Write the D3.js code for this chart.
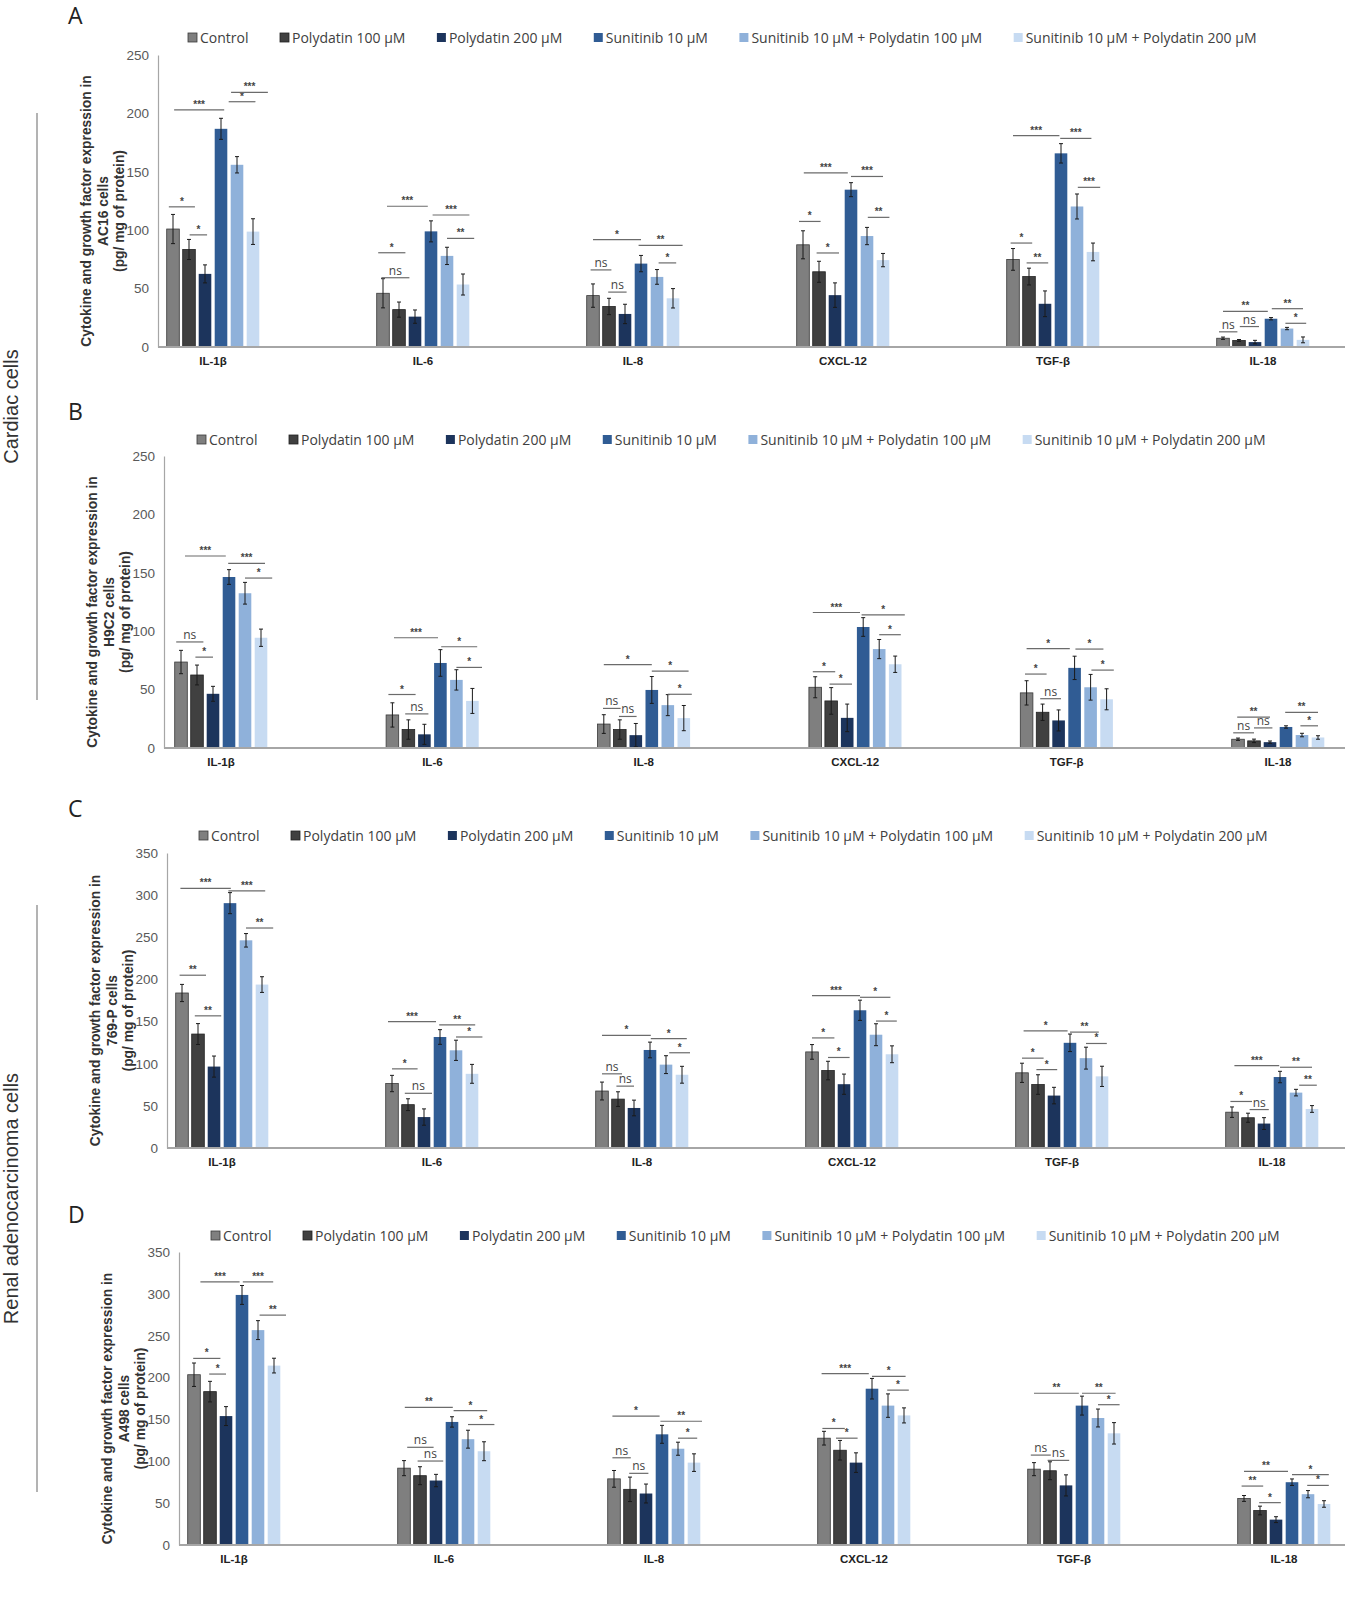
<!DOCTYPE html>
<html><head><meta charset="utf-8">
<script src="https://cdn.jsdelivr.net/npm/d3@7"></script>
<style>body{margin:0;background:#fff}</style>
</head><body>
<svg id="chart" width="1369" height="1606"></svg>
<script>
// ---------------- DATA ----------------
const categories = ["IL-1β","IL-6","IL-8","CXCL-12","TGF-β","IL-18"];
const seriesNames = ["Control","Polydatin 100 µM","Polydatin 200 µM","Sunitinib 10 µM","Sunitinib 10 µM + Polydatin 100 µM","Sunitinib 10 µM + Polydatin 200 µM"];
const seriesColors = ["#7f7f7f","#404040","#1c345c","#305c94","#8fb1da","#c7dbf2"];
const seriesStroke = ["#3a3a3a","#222222","#1c345c","#305c94","#8fb1da","#c7dbf2"];
const ticksCardiac = [0,50,100,150,200,250];
const ticksRenal = [0,50,100,150,200,250,300,350];
const cellLines = ["AC16","H9C2","769-P","A498"];

// rows = categories, columns = series
const valuesA = [[101,83.5,62.6,186.8,156,98.8],[46,32,26,99,78,53.5],[44,34.7,28.3,71.4,60,41.7],[87.5,64.4,44.4,134.7,95,74.4],[75,60.3,37,165.8,120.3,81.4],[7.5,5.6,4.2,24.2,15.8,6.1]];
const errorsA = [[12.5,8.6,7.7,9,7,11],[12.5,6.5,5.7,9,7.4,9],[10,7,8.3,7,6.3,8.3],[12,9,10.5,6,7.4,5.7],[9.3,7.2,11,8.3,10.7,7.6],[1,0.8,1.5,1,1,2.5]];
const valuesB = [[73.6,62.5,46.4,146.4,132.5,94.4],[28.3,15.8,11.7,72.8,58.3,40.3],[20.5,15.8,11,49.7,36.7,25.6],[52,40.3,25.8,103.6,84.7,71.7],[47.2,30.6,23.6,68.6,52,41.7],[7.5,6.1,5,18,11.1,9]];
const errorsB = [[10,8.5,6.4,6.3,9.3,7.4],[10.4,8.3,8.6,11.4,8.7,10.7],[8,8.3,10,11.5,9,10.8],[9,11.4,11.8,8,8.2,7],[10.4,7,9,10,11,9],[1,1.5,1,1,1.5,1.5]];
const valuesC = [[183.9,135.2,96.6,290.5,246.4,193.9],[76.5,51.4,36.7,131.7,115.9,88],[67.6,58,47.5,116.3,98.9,86.9],[114,91.9,75.7,163.4,134.4,111.2],[89.2,75.3,62.2,124.8,106.6,85],[42.5,35.9,29,84.2,65.7,46.3]];
const errorsC = [[10.2,12.4,12.5,12.5,8,9.3],[9.7,7,9.7,8.7,12,11.2],[10.6,8.7,9.3,9.3,10.6,10],[8.7,11,12,12,13,10],[11.4,11.6,9.8,10.4,13,12],[6.2,5.4,7,6.8,3.9,4]];
const valuesD = [[203.4,183.2,154,298.7,256.7,214.3],[91.8,82.8,77,147,126.4,112],[79,66.5,61.5,132.2,115,98.4],[127.6,113.2,98.4,186.7,166.5,154.8],[90.6,88.7,71.2,166.5,151.7,133.4],[55.6,41.2,30.3,75,60.7,49]];
const errorsD = [[14,12.3,11.3,11.3,11.3,8.8],[9,10.7,7.4,6.2,10.7,11.3],[10,14.6,11.3,10.7,7.8,10.5],[8.2,11.7,11.7,12.3,14,9],[7.8,10.7,12.6,11.3,10.7,12.8],[3.5,5.2,3.5,3.9,4.3,3.9]];

// significance brackets: [category, from series index, to series index, value, label]
const sigA = [[0,-0.26,1.37,120,"*"],[0,1.04,2.13,96,"*"],[0,0.07,3.2,203,"***"],[0,3.48,5.15,210,"*"],[0,3.63,5.93,218,"***"],
[1,-0.3,1.4,80.7,"*"],[1,-0.1,1.65,59.3,"ns"],[1,0.25,2.8,120.5,"***"],[1,3.1,5.4,113,"***"],[1,4.0,5.7,93,"**"],
[2,0,3,92,"*"],[2,-0.15,1.15,66,"ns"],[2,0.95,2.1,47,"ns"],[2,2.85,5.6,87,"**"],[2,4.1,5.2,72,"*"],
[3,-0.25,1.1,107.5,"*"],[3,0.85,2.25,80.5,"*"],[3,0.05,2.8,149,"***"],[3,3.0,5.0,146,"***"],[3,4.05,5.4,111,"**"],
[4,-0.15,1.2,89,"*"],[4,0.85,2.2,72,"**"],[4,0,2.9,181,"***"],[4,2.95,4.9,178.6,"***"],[4,4.05,5.45,136.7,"***"],
[5,-0.25,0.9,13,"ns"],[5,1.05,2.25,17.5,"ns"],[5,0,2.8,30.5,"**"],[5,3.05,5.0,32.8,"**"],[5,3.9,5.2,20.3,"*"]];
const sigB = [[0,-0.3,1.4,90.8,"ns"],[0,0.9,2.0,77.8,"*"],[0,0.25,2.8,164.4,"***"],[0,2.95,5.25,158,"***"],[0,4.0,5.7,145.5,"*"],
[1,-0.25,1.45,45.8,"*"],[1,0.8,2.25,29.2,"ns"],[1,0.1,2.85,94.4,"***"],[1,3.05,5.3,86.7,"*"],[1,4.0,5.6,69,"*"],
[2,-0.05,1.05,33.9,"ns"],[2,0.95,2.05,27,"ns"],[2,0,3,71.4,"*"],[2,3.0,5.3,65.8,"*"],[2,4.0,5.5,46,"*"],
[3,-0.15,1.25,65.3,"*"],[3,0.9,2.3,54.7,"*"],[3,-0.15,2.8,116,"***"],[3,2.9,5.6,114,"*"],[3,4.0,5.35,97,"*"],
[4,-0.1,1.25,63.3,"*"],[4,0.85,2.15,42.2,"ns"],[4,0,2.7,85,"*"],[4,3.05,4.8,84.7,"*"],[4,4.05,5.45,66.7,"*"],
[5,-0.3,1.0,13,"ns"],[5,1.0,2.15,17.2,"ns"],[5,-0.05,2.0,26.4,"**"],[5,2.95,5.0,30.5,"**"],[5,3.9,5.0,19,"*"]];
const sigC = [[0,-0.15,1.5,205,"**"],[0,0.8,2.45,156.8,"**"],[0,-0.1,3.05,308,"***"],[0,2.9,5.2,305,"***"],[0,4.0,5.7,261,"**"],
[1,0,1.6,93.9,"*"],[1,0.8,2.5,64.9,"ns"],[1,-0.25,2.75,149.9,"***"],[1,2.95,5.2,146,"**"],[1,4.0,5.65,131.7,"*"],
[2,0,1.25,88,"ns"],[2,0.9,2.0,73.4,"ns"],[2,0,3.05,133.6,"*"],[2,3.05,5.3,129.8,"*"],[2,4.2,5.5,113,"*"],
[3,0,1.4,130.6,"*"],[3,1.0,2.35,107.4,"*"],[3,0,3.0,180.8,"***"],[3,3.0,4.9,178.8,"*"],[3,4.0,5.3,150.6,"*"],
[4,0,1.35,106.6,"*"],[4,0.9,2.2,93,"*"],[4,0.1,2.85,139,"*"],[4,3.0,4.8,137.5,"**"],[4,4.0,5.3,124,"*"],
[5,-0.1,1.25,55.2,"*"],[5,1.1,2.3,45.6,"ns"],[5,0.15,2.95,97.7,"***"],[5,3.0,5.0,95.8,"**"],[5,4.2,5.3,74.5,"**"]];
const sigD = [[0,-0.05,1.65,222.9,"*"],[0,0.95,2.0,204.2,"*"],[0,0.4,2.85,314.3,"***"],[0,3.05,4.95,314.3,"***"],[0,4.1,5.75,274.6,"**"],
[1,0.2,1.85,116.7,"ns"],[1,0.85,2.45,100.3,"ns"],[1,0.05,3.05,164.5,"**"],[1,3.1,5.2,160.6,"*"],[1,4.0,5.65,143.9,"*"],
[2,-0.1,1.05,104.2,"ns"],[2,0.95,2.15,85.6,"ns"],[2,-0.1,2.85,154,"*"],[2,2.9,5.5,147.8,"**"],[2,4.0,5.2,127.6,"*"],
[3,-0.1,1.3,139.2,"*"],[3,0.75,2.1,127.6,"*"],[3,-0.15,2.8,204.6,"***"],[3,3.0,5.1,201.5,"*"],[3,3.95,5.3,185,"*"],
[4,-0.2,1.05,107.4,"ns"],[4,0.85,2.2,101.1,"ns"],[4,0,2.8,181.3,"**"],[4,3.0,5.1,181.3,"**"],[4,4.0,5.35,167.6,"*"],
[5,-0.15,1.2,70.4,"**"],[5,0.95,2.3,50.6,"*"],[5,0,2.75,87.9,"**"],[5,3.0,5.3,84,"*"],[5,3.95,5.3,71.2,"*"]];

// ---------------- LAYOUT ----------------
const panels = [
  {letter:"A", cell:cellLines[0], values:valuesA, errors:errorsA, sig:sigA, ticks:ticksCardiac, top:55, bottom:347, axisX:158, c0:213, step:210, legendY:38, legendX:188, letterY:24},
  {letter:"B", cell:cellLines[1], values:valuesB, errors:errorsB, sig:sigB, ticks:ticksCardiac, top:456, bottom:748, axisX:164, c0:221, step:211.4, legendY:440, legendX:197, letterY:420},
  {letter:"C", cell:cellLines[2], values:valuesC, errors:errorsC, sig:sigC, ticks:ticksRenal, top:853, bottom:1148, axisX:167, c0:222, step:210, legendY:836, legendX:199, letterY:817},
  {letter:"D", cell:cellLines[3], values:valuesD, errors:errorsD, sig:sigD, ticks:ticksRenal, top:1252, bottom:1545, axisX:179, c0:234, step:210, legendY:1236, legendX:211, letterY:1223}
];
const rightX = 1345;
const barStep = 16, barW = 12.6;

const svg = d3.select("#chart");

// side group labels
function sideGroup(label, y0, y1){
  svg.append("line").attr("x1",37).attr("x2",37).attr("y1",y0).attr("y2",y1)
    .attr("stroke","#9a9a9a").attr("stroke-width",1.5);
  svg.append("text").attr("transform",`translate(18,${(y0+y1)/2}) rotate(-90)`)
    .attr("text-anchor","middle").attr("font-family","Liberation Sans, Arial, sans-serif")
    .attr("font-size",20).attr("fill","#333").text(label);
}
sideGroup("Cardiac cells",113,700);
sideGroup("Renal adenocarcinoma  cells",905,1492);

panels.forEach(p => {
  const g = svg.append("g");
  const maxV = d3.max(p.ticks);
  const y = d3.scaleLinear().domain([0,maxV]).range([p.bottom,p.top]);
  const xc = d3.scaleLinear().domain([0,categories.length-1]).range([p.c0, p.c0 + p.step*(categories.length-1)]);
  const xs = d3.scaleBand().domain(d3.range(seriesNames.length)).range([-barStep*3, barStep*3]);
  const xf = d3.scaleLinear().domain([0,5]).range([xs(0)+xs.bandwidth()/2, xs(5)+xs.bandwidth()/2]);

  // letter
  g.append("text").attr("x",68).attr("y",p.letterY).attr("font-family","Open Sans, sans-serif")
    .attr("font-size",23).attr("fill","#222").text(p.letter);

  // legend
  let lx = p.legendX;
  seriesNames.forEach((s,i)=>{
    g.append("rect").attr("x",lx).attr("y",p.legendY-5).attr("width",9).attr("height",9)
      .attr("fill",seriesColors[i]).attr("stroke", i<2 ? seriesStroke[i] : "none").attr("stroke-width",0.8);
    const t = g.append("text").attr("x",lx+12).attr("y",p.legendY+4.5)
      .attr("font-family","Open Sans, sans-serif").attr("font-size",14).attr("fill","#404040").text(s);
    lx += 12 + t.node().getComputedTextLength() + 31.5;
  });

  // y axis
  const ya = d3.axisLeft(y).tickValues(p.ticks).tickSize(0).tickPadding(9);
  const yg = g.append("g").attr("transform",`translate(${p.axisX},0)`).call(ya);
  yg.select(".domain").attr("stroke","#a6a6a6").attr("stroke-width",1.2);
  yg.selectAll("text").attr("font-family","Liberation Sans, Arial, sans-serif").attr("font-size",13.5).attr("fill","#595959");

  // y title
  const tl = ["Cytokine and growth factor expression in", p.cell + " cells", "(pg/ mg of protein)"];
  const tcy = (p.top+p.bottom)/2 + 10;
  tl.forEach((t,i)=>{
    g.append("text").attr("transform",`translate(${p.axisX-72+i*16.5+5},${tcy}) rotate(-90)`)
      .attr("text-anchor","middle").attr("font-family","Liberation Sans, Arial, sans-serif")
      .attr("font-weight","bold").attr("font-size",13.8).attr("fill","#333").text(t);
  });

  // bars
  categories.forEach((c,ci)=>{
    const cg = g.append("g").attr("transform",`translate(${xc(ci)},0)`);
    seriesNames.forEach((s,si)=>{
      const v = p.values[ci][si], e = p.errors[ci][si];
      const cx = xs(si) + xs.bandwidth()/2;
      cg.append("rect").attr("x",cx-barW/2).attr("y",y(v)).attr("width",barW).attr("height",y(0)-y(v))
        .attr("fill",seriesColors[si]).attr("stroke", si<2 ? seriesStroke[si] : "none").attr("stroke-width",0.8);
      // error bar
      cg.append("line").attr("x1",cx).attr("x2",cx).attr("y1",y(v+e)).attr("y2",y(Math.max(0,v-e)))
        .attr("stroke","#1a1a1a").attr("stroke-width",1);
      [v+e, Math.max(0,v-e)].forEach(yy=>{
        cg.append("line").attr("x1",cx-2).attr("x2",cx+2).attr("y1",y(yy)).attr("y2",y(yy))
          .attr("stroke","#1a1a1a").attr("stroke-width",1);
      });
    });
    // category label
    g.append("text").attr("x",xc(ci)).attr("y",p.bottom+18).attr("text-anchor","middle")
      .attr("font-family","Liberation Sans, Arial, sans-serif").attr("font-weight","bold")
      .attr("font-size",11.5).attr("fill","#222").text(c);
  });

  // significance
  p.sig.forEach(([ci,a,b,v,lab])=>{
    const x1 = xc(ci)+xf(a), x2 = xc(ci)+xf(b), yy = y(v);
    g.append("line").attr("x1",x1).attr("x2",x2).attr("y1",yy).attr("y2",yy)
      .attr("stroke","#6b6b6b").attr("stroke-width",1.2);
    const ns = lab==="ns";
    g.append("text").attr("x",(x1+x2)/2).attr("y", ns ? yy-3 : yy-2).attr("text-anchor","middle")
      .attr("font-family", ns ? "Open Sans, sans-serif" : "Liberation Sans, Arial, sans-serif")
      .attr("font-size", ns ? 12 : 10).attr("font-weight", ns ? "normal" : "bold")
      .attr("fill","#444").text(lab);
  });

  // x baseline
  g.append("line").attr("x1",p.axisX).attr("x2",rightX).attr("y1",y(0)).attr("y2",y(0))
    .attr("stroke","#a6a6a6").attr("stroke-width",2);
});
</script>
</body></html>
